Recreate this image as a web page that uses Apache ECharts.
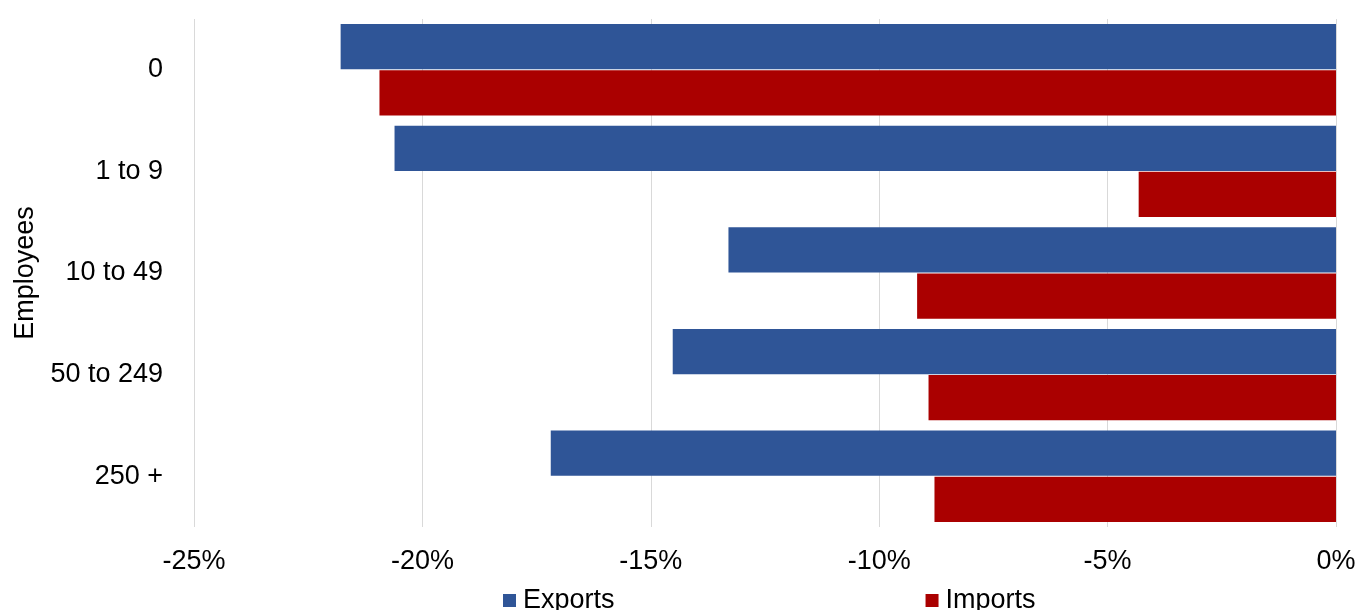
<!DOCTYPE html>
<html>
<head>
<meta charset="utf-8">
<script src="https://cdn.jsdelivr.net/npm/echarts@6/dist/echarts.min.js"></script>
<style>
html,body{margin:0;padding:0;background:#fff;}
#chart{width:1359px;height:610px;}
</style>
</head>
<body>
<div id="chart"></div>
<script>
const categories = ['0', '1 to 9', '10 to 49', '50 to 249', '250 +'];
const exportsValues = [-21.79, -20.61, -13.30, -14.52, -17.19];
const importsValues = [-20.94, -4.32, -9.17, -8.92, -8.79];
const seriesNames = ['Exports', 'Imports'];
const axisTitle = 'Employees';

const FONT = 'Liberation Sans, Arial, sans-serif';
const chart = echarts.init(document.getElementById('chart'), null, {renderer: 'canvas'});
chart.setOption({
  animation: false,
  backgroundColor: '#ffffff',
  grid: {left: 194, right: 23, top: 19, bottom: 83, containLabel: false},
  xAxis: {
    type: 'value',
    min: -25, max: 0, interval: 5,
    axisLine: {show: false},
    axisTick: {show: false},
    splitLine: {show: true, lineStyle: {color: '#D9D9D9', width: 1}},
    axisLabel: {
      formatter: v => v + '%',
      color: '#000', fontFamily: FONT, fontSize: 27, margin: 21
    }
  },
  yAxis: {
    type: 'category',
    data: categories,
    inverse: true,
    axisLine: {show: false},
    axisTick: {show: false},
    axisLabel: {color: '#000', fontFamily: FONT, fontSize: 27, margin: 31},
    name: axisTitle,
    nameLocation: 'middle',
    nameRotate: 90,
    nameGap: 152,
    nameTextStyle: {color: '#000', fontFamily: FONT, fontSize: 27}
  },
  legend: {
    data: seriesNames,
    left: 503, top: 587,
    padding: 0,
    itemWidth: 13, itemHeight: 13,
    itemGap: 311,
    icon: 'rect',
    textStyle: {color: '#000', fontFamily: FONT, fontSize: 27, padding: [0,0,0,2]}
  },
  series: [
    {name: seriesNames[0], type: 'bar', data: exportsValues,
     barCategoryGap: '10%', barGap: '2%',
     itemStyle: {color: '#2F5597'}},
    {name: seriesNames[1], type: 'bar', data: importsValues,
     barCategoryGap: '10%', barGap: '2%',
     itemStyle: {color: '#AA0000'}}
  ]
});
</script>
</body>
</html>
